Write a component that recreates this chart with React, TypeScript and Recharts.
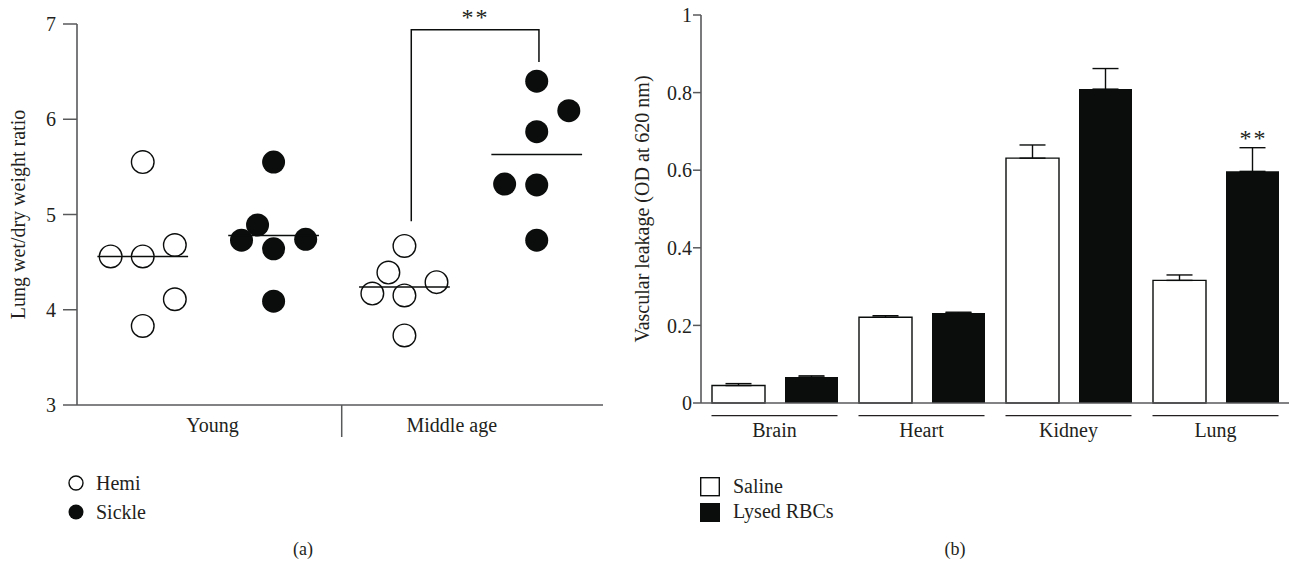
import React from "react";
import {
  Bar,
  BarChart,
  ErrorBar,
  LabelList,
  ReferenceDot,
  Scatter,
  ScatterChart,
  XAxis,
  YAxis,
} from "recharts";

const FONT = "'Liberation Serif', 'DejaVu Serif', serif";
const INK = "#231f20";
const BLACK = "#0b0d0c";
const AXIS = "#58595b";

// ---- panel (a): lung wet/dry weight ratio ----
const hemiYoung = [5.55, 4.56, 4.56, 4.68, 4.11, 3.83];
const sickleYoung = [5.55, 4.89, 4.73, 4.64, 4.74, 4.09];
const hemiMiddle = [4.67, 4.39, 4.17, 4.15, 4.29, 3.73];
const sickleMiddle = [6.4, 6.09, 5.87, 5.32, 5.31, 4.73];
const medians = [4.56, 4.78, 4.24, 5.63];

// swarm slots (which column each dot sits in, so dots don't overlap)
const slotsHemiYoung = [0, -2, 0, 2, 2, 0];
const slotsSickleYoung = [0, -1, -2, 0, 2, 0];
const slotsHemiMiddle = [0, -1, -2, 0, 2, 0];
const slotsSickleMiddle = [0, 2, 0, -2, 0, 0];

const ratioTicks = [3, 4, 5, 6, 7];
const ageTicks = [1.03, 2.013, 2.85];
const ageLabels = ["Young", "", "Middle age"];

// ---- panel (b): vascular leakage ----
const organs = ["Brain", "Heart", "Kidney", "Lung"];
const saline = [0.045, 0.221, 0.631, 0.316];
const salineErr = [0.005, 0.004, 0.034, 0.014];
const lysed = [0.067, 0.232, 0.809, 0.597];
const lysedErr = [0.003, 0.002, 0.053, 0.061];
const leakTicks = [0, 0.2, 0.4, 0.6, 0.8, 1];

const centers = [0.5, 1.495, 2.49, 3.496];
const STEP = 0.122;

const dots = (vals: number[], slots: number[], g: number) =>
  vals.map((v, i) => ({ x: centers[g] + slots[i] * STEP, y: v }));

const medianSeg = (g: number) => [
  { x: centers[g] - 0.345, y: medians[g] },
  { x: centers[g] + 0.345, y: medians[g] },
];

const bracket = [
  { x: 2.542, y: 4.93 },
  { x: 2.542, y: 6.94 },
  { x: 3.513, y: 6.94 },
  { x: 3.513, y: 6.6 },
];

const barData = organs.map((organ, i) => ({
  organ,
  saline: saline[i],
  salineErr: [0, salineErr[i]],
  lysed: lysed[i],
  lysedErr: [0, lysedErr[i]],
}));

const hollow = (p: any) => (
  <circle cx={p.cx} cy={p.cy} r={11.3} fill="#fff" stroke={BLACK} strokeWidth={1.4} />
);
const filled = (p: any) => <circle cx={p.cx} cy={p.cy} r={11.5} fill={BLACK} />;
const noDot = () => <g />;

const AgeTick = (props: any) => {
  const { x, y, payload } = props;
  const label = ageLabels[ageTicks.indexOf(payload.value)];
  if (!label) {
    return <line x1={x} x2={x} y1={y} y2={y + 32} stroke={AXIS} strokeWidth={1.5} />;
  }
  return (
    <text x={x} y={y + 27} textAnchor="middle" fontFamily={FONT} fontSize={20} fill={INK}>
      {label}
    </text>
  );
};

const OrganTick = (props: any) => {
  const { x, y, payload } = props;
  return (
    <g>
      <line x1={x - 63} x2={x + 63} y1={y + 12.7} y2={y + 12.7} stroke={INK} strokeWidth={1.3} />
      <text x={x} y={y + 34} textAnchor="middle" fontFamily={FONT} fontSize={20} fill={INK}>
        {payload.value}
      </text>
    </g>
  );
};

const tickStyle = { fontFamily: FONT, fontSize: 20, fill: INK };

function LungWetDry() {
  const lineStyle = { stroke: BLACK, strokeWidth: 1.5 };
  return (
    <ScatterChart width={620} height={564} margin={{ top: 24, right: 17, bottom: 119, left: 0 }}>
      <XAxis
        type="number"
        dataKey="x"
        domain={[0, 4]}
        ticks={ageTicks}
        interval={0}
        tick={<AgeTick />}
        tickLine={false}
        tickSize={0}
        tickMargin={0}
        height={40}
        axisLine={{ stroke: AXIS, strokeWidth: 1.6 }}
      />
      <YAxis
        type="number"
        dataKey="y"
        domain={[3, 7]}
        ticks={ratioTicks}
        interval={0}
        width={77}
        tickSize={14}
        tickMargin={7}
        tick={tickStyle}
        tickLine={{ stroke: AXIS, strokeWidth: 1.5 }}
        axisLine={{ stroke: AXIS, strokeWidth: 1.6 }}
        label={{
          value: "Lung wet/dry weight ratio",
          angle: -90,
          position: "insideLeft",
          offset: 18,
          style: { textAnchor: "middle", fontFamily: FONT, fontSize: 20, fill: INK },
        }}
      />
      <Scatter data={dots(hemiYoung, slotsHemiYoung, 0)} shape={hollow} isAnimationActive={false} />
      <Scatter data={dots(sickleYoung, slotsSickleYoung, 1)} shape={filled} isAnimationActive={false} />
      <Scatter data={dots(hemiMiddle, slotsHemiMiddle, 2)} shape={hollow} isAnimationActive={false} />
      <Scatter data={dots(sickleMiddle, slotsSickleMiddle, 3)} shape={filled} isAnimationActive={false} />
      {[0, 1, 2, 3].map((g) => (
        <Scatter
          key={g}
          data={medianSeg(g)}
          line={lineStyle}
          lineType="joint"
          shape={noDot}
          isAnimationActive={false}
        />
      ))}
      <Scatter data={bracket} line={lineStyle} lineType="joint" shape={noDot} isAnimationActive={false} />
      <ReferenceDot
        x={3.03}
        y={7}
        r={0}
        stroke="none"
        ifOverflow="visible"
        label={{
          value: "**",
          position: "top",
          offset: -1,
          style: { fontFamily: FONT, fontSize: 24, fill: INK, letterSpacing: 2 },
        }}
      />
    </ScatterChart>
  );
}

const lungStars = (p: any) => {
  if (p.index !== 3) return null;
  return (
    <text
      x={p.x + p.width / 2 + 1}
      y={p.y - 25}
      textAnchor="middle"
      fontFamily={FONT}
      fontSize={24}
      letterSpacing={2}
      fill={INK}
    >
      **
    </text>
  );
};

function VascularLeak() {
  return (
    <BarChart
      width={669}
      height={564}
      data={barData}
      barSize={53}
      barGap={20}
      margin={{ top: 15, right: 0, bottom: 111, left: 0 }}
    >
      <XAxis
        dataKey="organ"
        interval={0}
        tick={<OrganTick />}
        tickLine={false}
        tickSize={0}
        tickMargin={0}
        height={50}
        axisLine={{ stroke: AXIS, strokeWidth: 1.6 }}
      />
      <YAxis
        type="number"
        domain={[0, 1]}
        ticks={leakTicks}
        interval={0}
        width={81}
        tickSize={8}
        tickMargin={1}
        tick={tickStyle}
        tickLine={{ stroke: AXIS, strokeWidth: 1.5 }}
        axisLine={{ stroke: AXIS, strokeWidth: 1.6 }}
        label={{
          value: "Vascular leakage (OD at 620 nm)",
          angle: -90,
          position: "insideLeft",
          offset: 22,
          style: { textAnchor: "middle", fontFamily: FONT, fontSize: 20, fill: INK },
        }}
      />
      <Bar dataKey="saline" fill="#fff" stroke={BLACK} strokeWidth={1.4} isAnimationActive={false}>
        <ErrorBar dataKey="salineErr" direction="y" width={13} stroke={BLACK} strokeWidth={1.4} />
      </Bar>
      <Bar dataKey="lysed" fill={BLACK} isAnimationActive={false}>
        <ErrorBar dataKey="lysedErr" direction="y" width={13} stroke={BLACK} strokeWidth={1.4} />
        <LabelList dataKey="lysed" content={lungStars} />
      </Bar>
    </BarChart>
  );
}

function Legends() {
  const txt = { fontFamily: FONT, fontSize: 20, fill: INK };
  return (
    <svg width={1289} height={564} style={{ position: "absolute", left: 0, top: 0, pointerEvents: "none" }}>
      <circle cx={76} cy={483} r={7} fill="#fff" stroke={BLACK} strokeWidth={1.4} />
      <text x={96} y={489.5} {...txt}>Hemi</text>
      <circle cx={76} cy={512} r={7.5} fill={BLACK} />
      <text x={96} y={518.5} {...txt}>Sickle</text>
      <text x={303} y={555} textAnchor="middle" {...txt} fontSize={18}>(a)</text>

      <rect x={700.7} y={477.7} width={18.6} height={18} fill="#fff" stroke={BLACK} strokeWidth={1.4} />
      <text x={733} y={493} {...txt}>Saline</text>
      <rect x={700} y={503} width={20} height={19} fill={BLACK} />
      <text x={733} y={518} {...txt}>Lysed RBCs</text>
      <text x={955} y={555} textAnchor="middle" {...txt} fontSize={18}>(b)</text>
    </svg>
  );
}

export default function App() {
  return (
    <div style={{ position: "absolute", left: 0, top: 0, width: 1289, height: 564, background: "#fff" }}>
      <div style={{ position: "absolute", left: 0, top: 0 }}>
        <LungWetDry />
      </div>
      <div style={{ position: "absolute", left: 620, top: 0 }}>
        <VascularLeak />
      </div>
      <Legends />
    </div>
  );
}
